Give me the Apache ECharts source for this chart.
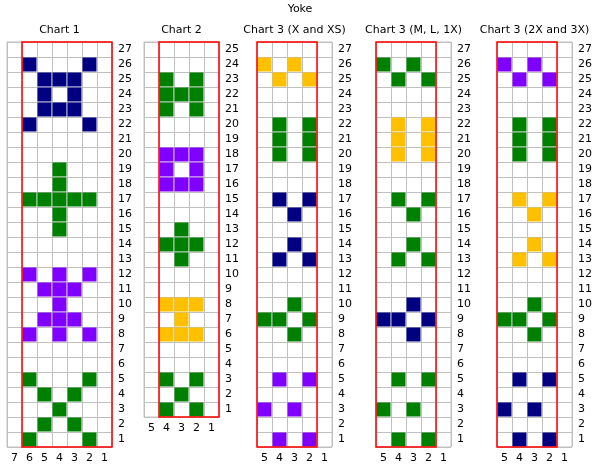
<!DOCTYPE html>
<html><head><meta charset="utf-8">
<script src="https://cdn.jsdelivr.net/npm/echarts@6/dist/echarts.min.js"></script>
<style>html,body{margin:0;padding:0;background:#fff}#c{width:600px;height:466px}</style>
</head><body><div id="c"></div>
<script>
// ---------- DATA ----------
const mainTitle = 'Yoke';
const chartTitles = ['Chart 1', 'Chart 2', 'Chart 3 (X and XS)', 'Chart 3 (M, L, 1X)', 'Chart 3 (2X and 3X)'];

const cols7 = ['7','6','5','4','3','2','1'];
const cols5 = ['5','4','3','2','1'];
const rows27 = ['1','2','3','4','5','6','7','8','9','10','11','12','13','14','15','16','17','18','19','20','21','22','23','24','25','26','27'];
const rows25 = ['1','2','3','4','5','6','7','8','9','10','11','12','13','14','15','16','17','18','19','20','21','22','23','24','25'];

// cells: [column label, row label, colour key]
const chart1Cells = [
  ['6','26','navy'],['2','26','navy'],
  ['5','25','navy'],['4','25','navy'],['3','25','navy'],
  ['5','24','navy'],['3','24','navy'],
  ['5','23','navy'],['4','23','navy'],['3','23','navy'],
  ['6','22','navy'],['2','22','navy'],
  ['4','19','green'],['4','18','green'],
  ['6','17','green'],['5','17','green'],['4','17','green'],['3','17','green'],['2','17','green'],
  ['4','16','green'],['4','15','green'],
  ['6','12','purple'],['4','12','purple'],['2','12','purple'],
  ['5','11','purple'],['4','11','purple'],['3','11','purple'],
  ['4','10','purple'],
  ['5','9','purple'],['4','9','purple'],['3','9','purple'],
  ['6','8','purple'],['4','8','purple'],['2','8','purple'],
  ['6','5','green'],['2','5','green'],
  ['5','4','green'],['3','4','green'],
  ['4','3','green'],
  ['5','2','green'],['3','2','green'],
  ['6','1','green'],['2','1','green']
];
const chart2Cells = [
  ['4','23','green'],['2','23','green'],
  ['4','22','green'],['3','22','green'],['2','22','green'],
  ['4','21','green'],['2','21','green'],
  ['4','18','purple'],['3','18','purple'],['2','18','purple'],
  ['4','17','purple'],['2','17','purple'],
  ['4','16','purple'],['3','16','purple'],['2','16','purple'],
  ['3','13','green'],
  ['4','12','green'],['3','12','green'],['2','12','green'],
  ['3','11','green'],
  ['4','8','yellow'],['3','8','yellow'],['2','8','yellow'],
  ['3','7','yellow'],
  ['4','6','yellow'],['3','6','yellow'],['2','6','yellow'],
  ['4','3','green'],['2','3','green'],
  ['3','2','green'],
  ['4','1','green'],['2','1','green']
];
const chart3aCells = [
  ['5','26','yellow'],['3','26','yellow'],
  ['4','25','yellow'],['2','25','yellow'],
  ['4','22','green'],['2','22','green'],
  ['4','21','green'],['2','21','green'],
  ['4','20','green'],['2','20','green'],
  ['4','17','navy'],['2','17','navy'],
  ['3','16','navy'],
  ['3','14','navy'],
  ['4','13','navy'],['2','13','navy'],
  ['3','10','green'],
  ['5','9','green'],['4','9','green'],['2','9','green'],
  ['3','8','green'],
  ['4','5','purple'],['2','5','purple'],
  ['5','3','purple'],['3','3','purple'],
  ['4','1','purple'],['2','1','purple']
];
const chart3bCells = [
  ['5','26','green'],['3','26','green'],
  ['4','25','green'],['2','25','green'],
  ['4','22','yellow'],['2','22','yellow'],
  ['4','21','yellow'],['2','21','yellow'],
  ['4','20','yellow'],['2','20','yellow'],
  ['4','17','green'],['2','17','green'],
  ['3','16','green'],
  ['3','14','green'],
  ['4','13','green'],['2','13','green'],
  ['3','10','navy'],
  ['5','9','navy'],['4','9','navy'],['2','9','navy'],
  ['3','8','navy'],
  ['4','5','green'],['2','5','green'],
  ['5','3','green'],['3','3','green'],
  ['4','1','green'],['2','1','green']
];
const chart3cCells = [
  ['5','26','purple'],['3','26','purple'],
  ['4','25','purple'],['2','25','purple'],
  ['4','22','green'],['2','22','green'],
  ['4','21','green'],['2','21','green'],
  ['4','20','green'],['2','20','green'],
  ['4','17','yellow'],['2','17','yellow'],
  ['3','16','yellow'],
  ['3','14','yellow'],
  ['4','13','yellow'],['2','13','yellow'],
  ['3','10','green'],
  ['5','9','green'],['4','9','green'],['2','9','green'],
  ['3','8','green'],
  ['4','5','navy'],['2','5','navy'],
  ['5','3','navy'],['3','3','navy'],
  ['4','1','navy'],['2','1','navy']
];
// red outlined repeat: [first column, last column]
const redBoxCols = [['6','1'], ['4','1'], ['5','2'], ['5','2'], ['5','2']];

// ---------- STYLE / LAYOUT ----------
const palette = { navy: '#000080', green: '#008000', purple: '#8000ff', yellow: '#ffc000' };
const FONT = 'DejaVu Sans';
const panels = [
  { cols: cols7, rows: rows27, cells: chart1Cells, left: 7,   top: 42, w: 105, h: 405 },
  { cols: cols5, rows: rows25, cells: chart2Cells, left: 144, top: 42, w: 75,  h: 375 },
  { cols: cols5, rows: rows27, cells: chart3aCells, left: 257, top: 42, w: 75, h: 405 },
  { cols: cols5, rows: rows27, cells: chart3bCells, left: 376, top: 42, w: 75, h: 405 },
  { cols: cols5, rows: rows27, cells: chart3cCells, left: 497, top: 42, w: 75, h: 405 }
];

const grid = [], xAxis = [], yAxis = [], series = [];
const title = [{ text: mainTitle, left: 'center', top: 4, padding: 0,
  textStyle: { fontFamily: FONT, fontSize: 11, fontWeight: 'normal', color: '#000' } }];

panels.forEach((p, i) => {
  grid.push({ left: p.left, top: p.top, width: p.w, height: p.h, show: true,
    borderColor: '#c0c0c0', borderWidth: 1, backgroundColor: 'transparent' });
  title.push({ text: chartTitles[i], left: p.left + p.w / 2, top: 25, textAlign: 'center', padding: 0,
    textStyle: { fontFamily: FONT, fontSize: 11, fontWeight: 'normal', color: '#000' } });
  xAxis.push({ type: 'category', gridIndex: i, data: p.cols, position: 'bottom',
    axisLine: { show: false }, axisTick: { show: false },
    splitLine: { show: true, lineStyle: { color: '#c0c0c0', width: 1 } },
    axisLabel: { fontFamily: FONT, fontSize: 11, color: '#000', margin: 6 } });
  yAxis.push({ type: 'category', gridIndex: i, data: p.rows, position: 'right',
    axisLine: { show: false }, axisTick: { show: false },
    splitLine: { show: true, lineStyle: { color: '#c0c0c0', width: 1 } },
    axisLabel: { fontFamily: FONT, fontSize: 11, color: '#000', margin: 6, align: 'left' } });
  const data = p.cells.map(c => [p.cols.indexOf(c[0]), p.rows.indexOf(c[1])]);
  series.push({
    type: 'custom', xAxisIndex: i, yAxisIndex: i, data: data, silent: true,
    renderItem: function (params, api) {
      const c = api.coord([api.value(0), api.value(1)]);
      const s = api.size([1, 1]);
      const key = p.cells[params.dataIndex][2];
      return { type: 'rect',
        shape: { x: c[0] - s[0] / 2 + 0.5, y: c[1] - s[1] / 2 + 0.5, width: s[0] - 1, height: s[1] - 1 },
        style: { fill: palette[key] } };
    }
  });
  const bx = redBoxCols[i];
  series.push({
    type: 'custom', xAxisIndex: i, yAxisIndex: i, z: 10, silent: true,
    data: [[p.cols.indexOf(bx[0]), p.rows.length - 1, p.cols.indexOf(bx[1]), 0]],
    renderItem: function (params, api) {
      const a = api.coord([api.value(0), api.value(1)]);
      const b = api.coord([api.value(2), api.value(3)]);
      const s = api.size([1, 1]);
      return { type: 'rect',
        shape: { x: a[0] - s[0] / 2, y: a[1] - s[1] / 2, width: b[0] - a[0] + s[0], height: b[1] - a[1] + s[1] },
        style: { fill: 'none', stroke: '#ff0000', lineWidth: 1.5 } };
    }
  });
});

const chart = echarts.init(document.getElementById('c'), null, { renderer: 'canvas' });
chart.setOption({ backgroundColor: '#fff', animation: false, title, grid, xAxis, yAxis, series });
</script></body></html>
